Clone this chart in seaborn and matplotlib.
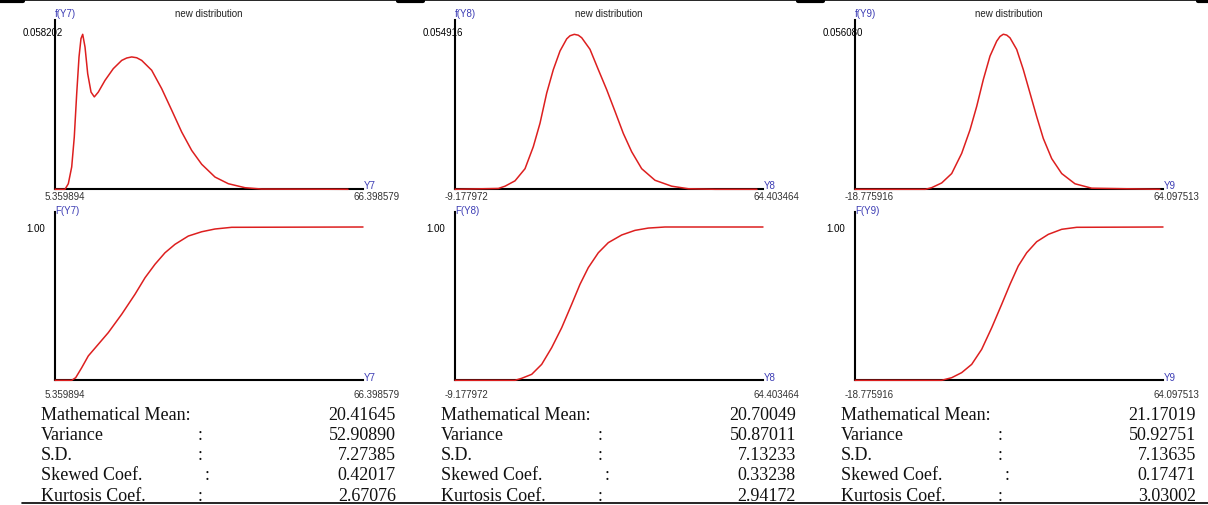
import matplotlib
matplotlib.use("Agg")
import matplotlib.pyplot as plt
import seaborn as sns
from matplotlib.lines import Line2D
from matplotlib.transforms import Bbox, TransformedBbox

# variables and axis ranges shown under each column
var_names = ["Y7", "Y8", "Y9"]
x_min = [5.359894, -9.177972, -18.775916]
x_max = [66.398579, 64.403464, 64.097513]
pdf_max = [0.058202, 0.054916, 0.056080]

# density curves
y7_pdf_x = [5.36, 7.34, 8.00, 8.67, 9.18, 9.66, 10.12, 10.51, 10.85, 11.31, 11.84, 12.50, 13.15, 13.94, 15.27,
            16.91, 18.58, 19.57, 20.56, 21.55, 22.54, 24.52, 26.50, 28.49, 30.47, 32.45, 34.43, 37.07, 39.71,
            43.01, 46.32, 63.43]
y7_pdf_y = [0.0, 0.0, 0.0021, 0.0084, 0.0196, 0.0359, 0.0497, 0.0566, 0.0582, 0.0534, 0.0434, 0.0365, 0.0347,
            0.0365, 0.0409, 0.0453, 0.0484, 0.0493, 0.0497, 0.0494, 0.0484, 0.0447, 0.0378, 0.0297, 0.0215, 0.0146,
            0.0094, 0.0046, 0.0021, 0.0006, 0.0001, 0.0]
y8_pdf_x = [-9.18, 1.17, 2.77, 5.16, 7.55, 9.53, 11.13, 12.73, 14.31, 15.91, 17.51, 18.30, 19.32, 20.28, 21.09,
            23.07, 25.06, 27.06, 29.05, 31.03, 33.03, 35.42, 38.60, 42.59, 46.56, 52.94, 62.97]
y8_pdf_y = [0.0, 0.0003, 0.0011, 0.0030, 0.0073, 0.0151, 0.0234, 0.0341, 0.0424, 0.0490, 0.0533, 0.0544, 0.0549,
            0.0546, 0.0537, 0.0496, 0.0424, 0.0353, 0.0276, 0.0198, 0.0133, 0.0073, 0.0032, 0.0011, 0.0002, 0.0,
            0.0]
y9_pdf_x = [-18.78, 0.17, 1.86, 4.55, 7.24, 9.93, 12.17, 13.97, 15.75, 17.55, 19.35, 20.24, 21.13, 22.04, 22.93,
            24.73, 26.51, 28.31, 30.11, 31.89, 34.15, 36.84, 40.41, 44.91, 63.29]
y9_pdf_y = [0.0, 0.0, 0.0006, 0.0023, 0.0057, 0.0130, 0.0215, 0.0300, 0.0397, 0.0482, 0.0536, 0.0553, 0.0561,
            0.0558, 0.0548, 0.0506, 0.0433, 0.0348, 0.0263, 0.0184, 0.0111, 0.0057, 0.0020, 0.0004, 0.0]

# cumulative curves
y7_cdf_x = [5.36, 8.67, 9.46, 10.65, 11.96, 13.94, 15.92, 18.58, 21.21, 23.20, 25.18, 27.16, 29.14, 31.78, 34.43,
            37.07, 40.38, 66.40]
y7_cdf_y = [0.0, 0.0, 0.017, 0.082, 0.159, 0.235, 0.311, 0.431, 0.561, 0.669, 0.757, 0.832, 0.887, 0.941, 0.969,
            0.987, 0.998, 1.0]
y8_cdf_x = [-9.18, 5.16, 6.76, 9.15, 11.53, 13.92, 16.31, 18.70, 20.68, 22.67, 25.06, 27.45, 30.65, 33.82, 37.00,
            40.99, 64.40]
y8_cdf_y = [0.0, 0.0, 0.013, 0.039, 0.104, 0.213, 0.343, 0.496, 0.626, 0.735, 0.832, 0.898, 0.948, 0.978, 0.993,
            1.0, 1.0]
y9_cdf_x = [-18.78, 4.55, 7.24, 9.93, 12.62, 15.31, 18.01, 20.70, 22.93, 25.16, 27.42, 30.11, 33.24, 36.84, 40.88,
            64.10]
y9_cdf_y = [0.0, 0.0, 0.017, 0.050, 0.104, 0.202, 0.343, 0.496, 0.626, 0.746, 0.832, 0.904, 0.952, 0.985, 0.998,
            1.0]

# summary statistics under each column
stat_names = ["Mathematical Mean:", "Variance", "S.D.", "Skewed Coef.", "Kurtosis Coef."]
means = [20.41645, 20.70049, 21.17019]
variances = [52.90890, 50.87011, 50.92751]
sds = [7.27385, 7.13233, 7.13635]
skews = [0.42017, 0.33238, 0.17471]
kurts = [2.67076, 2.94172, 3.03002]

pdf_curves = [(y7_pdf_x, y7_pdf_y), (y8_pdf_x, y8_pdf_y), (y9_pdf_x, y9_pdf_y)]
cdf_curves = [(y7_cdf_x, y7_cdf_y), (y8_cdf_x, y8_cdf_y), (y9_cdf_x, y9_cdf_y)]

RED = "#dd1f1f"
BLUE = "#3c3cb4"
SERIF = ["Liberation Serif", "DejaVu Serif"]
W, H = 1208, 506

sns.set_style("white")
plt.rcParams["font.family"] = ["Liberation Sans", "DejaVu Sans"]

fig = plt.figure(figsize=(W / 100, H / 100), dpi=100)


def fx(px):
    return px / W


def fy(py):
    return 1 - py / H


def style_axes(ax):
    for side in ["top", "right"]:
        ax.spines[side].set_visible(False)
    for side in ["left", "bottom"]:
        ax.spines[side].set_color("black")
        ax.spines[side].set_linewidth(1.5)
    ax.set_facecolor("none")
    ax.set_xlabel("")
    ax.set_ylabel("")
    ax.set_xticks([])


def small(ax, text, xy, coords, offset, color="black", ha="left", clip=None):
    t = ax.annotate(text, xy=xy, xycoords=coords, xytext=offset, textcoords="offset pixels",
                    ha=ha, va="center", fontsize=7, color=color, annotation_clip=False)
    if clip is not None:
        t.set_clip_box(clip)
        t.set_clip_on(True)
    return t


for i, name in enumerate(var_names):
    ox = 400 * i
    clip = TransformedBbox(Bbox.from_extents(fx(ox), 0, fx(ox + 399), 1), fig.transFigure)

    # density
    ax = fig.add_axes([fx(ox + 55), fy(190.3), 308 / W, (190.3 - 20.5) / H])
    px, py = pdf_curves[i]
    sns.lineplot(x=px, y=py, ax=ax, color=RED, linewidth=1.1, estimator=None, sort=False,
                 zorder=3, clip_on=False)
    style_axes(ax)
    ax.set_yticks([])
    ax.set_xlim(x_min[i], x_max[i])
    ax.set_ylim(0, pdf_max[i] * 169.8 / 155)
    small(ax, f"{pdf_max[i]:.6f}", (0, pdf_max[i]), ("axes fraction", "data"), (-32, 2))
    small(ax, f"f({name})", (0, 1), "axes fraction", (0, 6.5), color=BLUE)
    small(ax, "new distribution", (0.5, 1), "axes fraction", (0, 6.5), color="#222222", ha="center")
    small(ax, name, (1, 0), "axes fraction", (1, 4.3), color=BLUE)
    small(ax, f"{x_min[i]:.6f}", (0, 0), "axes fraction", (-10, -6.7), color="#333333")
    small(ax, f"{x_max[i]:.6f}", (1, 0), "axes fraction", (-10, -6.7), color="#333333", clip=clip)

    # cumulative
    ax = fig.add_axes([fx(ox + 55), fy(381.3), 308 / W, (381.3 - 212.7) / H])
    cx, cy = cdf_curves[i]
    sns.lineplot(x=cx, y=cy, ax=ax, color=RED, linewidth=1.1, estimator=None, sort=False,
                 zorder=3, clip_on=False)
    style_axes(ax)
    ax.set_xlim(x_min[i], x_max[i])
    ax.set_ylim(0, 168.6 / 153.3)
    ax.set_yticks([1.0])
    ax.set_yticklabels(["1.00"])
    ax.tick_params(axis="y", length=3, width=1.5, direction="inout", pad=6, labelsize=7, colors="black")
    small(ax, f"F({name})", (0, 1), "axes fraction", (0, 1.5), color=BLUE)
    small(ax, name, (1, 0), "axes fraction", (1, 3), color=BLUE)
    small(ax, f"{x_min[i]:.6f}", (0, 0), "axes fraction", (-10, -13.7), color="#333333")
    small(ax, f"{x_max[i]:.6f}", (1, 0), "axes fraction", (-10, -13.7), color="#333333", clip=clip)

    # statistics block
    values = [means[i], variances[i], sds[i], skews[i], kurts[i]]
    for r, (label, val) in enumerate(zip(stat_names, values)):
        yy = fy(415 + 20.3 * r)
        fig.text(fx(ox + 41), yy, label, ha="left", va="center", fontsize=13, family=SERIF, color="#111111")
        if r > 0:
            colon_x = ox + 207 if r == 3 else ox + 200
            fig.text(fx(colon_x), yy, ":", ha="center", va="center", fontsize=13, family=SERIF, color="#111111")
        fig.text(fx(ox + 396), yy, f"{val:.5f}", ha="right", va="center", fontsize=13, family=SERIF,
                 color="#111111")

# table rules at top and bottom
fig.add_artist(Line2D([0, 1], [fy(1), fy(1)], transform=fig.transFigure, color="black", lw=1.2))
for a, b in [(0, 23), (398, 423), (798, 823), (1198, 1208)]:
    fig.add_artist(Line2D([fx(a), fx(b)], [fy(1.5), fy(1.5)], transform=fig.transFigure, color="black", lw=3))
fig.add_artist(Line2D([fx(22), 1], [fy(504), fy(504)], transform=fig.transFigure, color="black", lw=1.2))

fig.savefig("out.png", dpi=100)
